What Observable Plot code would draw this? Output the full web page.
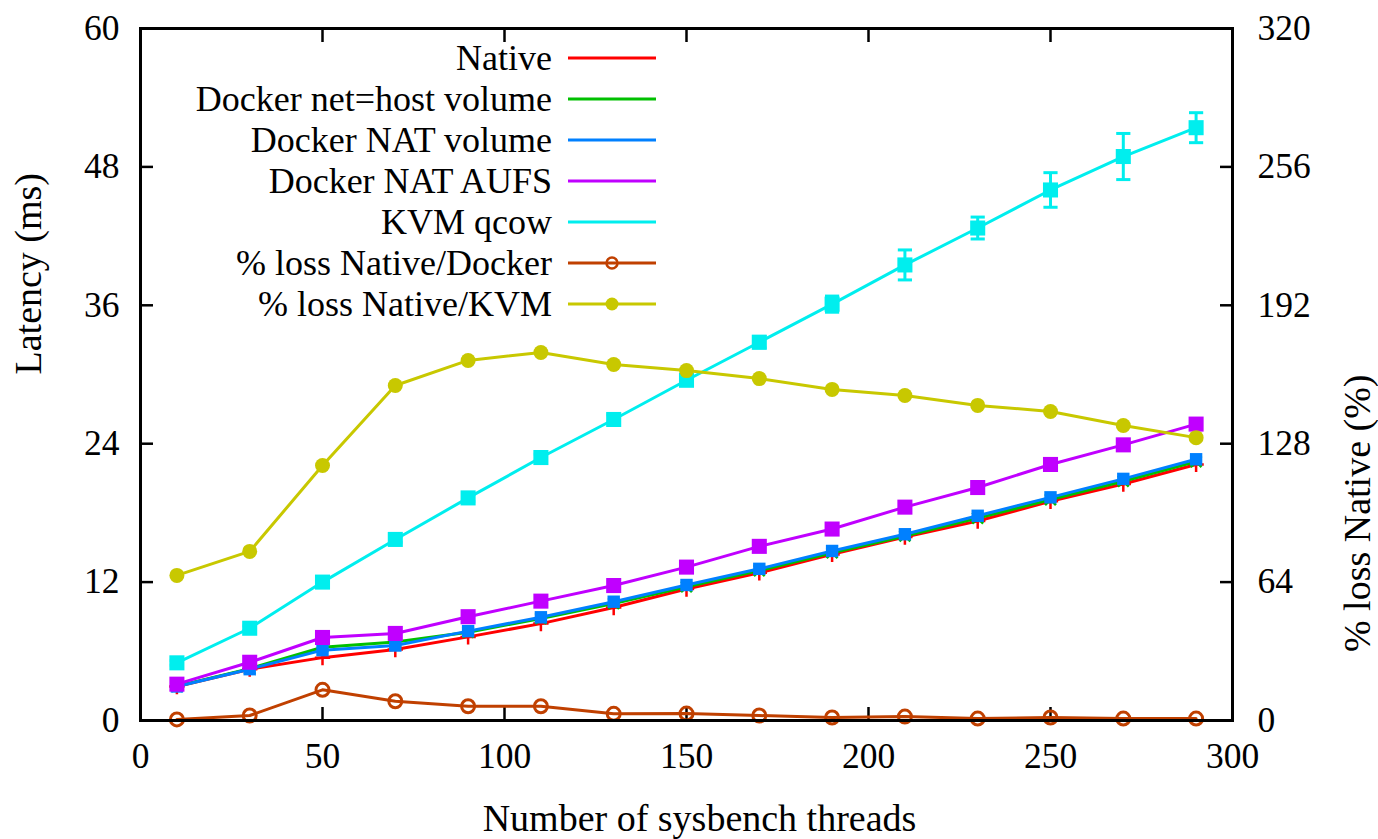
<!DOCTYPE html>
<html><head><meta charset="utf-8">
<script src="https://cdn.jsdelivr.net/npm/d3@7"></script>
<script src="https://cdn.jsdelivr.net/npm/@observablehq/plot@0.6"></script>
<style>
html,body{margin:0;padding:0;background:#fff;overflow:hidden}
#wrap{position:relative;width:1378px;height:839px}
#chart svg, #chart svg text{font-family:"Liberation Serif","Times New Roman",serif !important}
#legend{position:absolute;left:0;top:0;font-family:"Liberation Serif","Times New Roman",serif;font-size:36px;color:#000}
.row{position:absolute;left:0;height:40px;display:flex;align-items:center;white-space:nowrap}
.row span{display:inline-block;width:552px;text-align:right}
.row svg{margin-left:16px}
</style></head>
<body><div id="wrap"><div id="chart"></div><div id="legend"></div></div>
<script>
// ---- data ----
const threads = [10, 30, 50, 70, 90, 110, 130, 150, 170, 190, 210, 230, 250, 270, 290];
const native     = [2.95, 4.45, 5.45, 6.15, 7.25, 8.4, 9.8, 11.4, 12.8, 14.4, 15.9, 17.3, 19.0, 20.5, 22.2];
const dockerHost = [2.97, 4.5, 6.35, 6.8, 7.65, 8.85, 10.15, 11.6, 13.0, 14.55, 16.0, 17.55, 19.15, 20.75, 22.45];
const dockerNat  = [2.95, 4.45, 6.1, 6.5, 7.75, 8.95, 10.3, 11.75, 13.15, 14.7, 16.15, 17.75, 19.35, 20.95, 22.65];
const dockerAufs = [3.15, 5.05, 7.2, 7.55, 9.0, 10.35, 11.7, 13.3, 15.1, 16.6, 18.5, 20.2, 22.2, 23.9, 25.7];
const kvmQcow    = [5.0, 8.0, 12.0, 15.7, 19.3, 22.8, 26.1, 29.5, 32.8, 36.1, 39.5, 42.7, 46.0, 48.9, 51.4];
const kvmErr     = [0.2, 0.2, 0.25, 0.25, 0.3, 0.3, 0.4, 0.4, 0.5, 0.7, 1.3, 0.95, 1.5, 2.0, 1.3];
const lossDocker = [0.5, 2.3, 14.2, 8.9, 6.6, 6.6, 3.1, 3.2, 2.3, 1.4, 1.8, 0.9, 1.4, 0.9, 0.9];
const lossKvm    = [67.1, 78.2, 117.9, 154.9, 166.5, 170.2, 164.6, 161.8, 158.1, 153.1, 150.3, 145.7, 142.9, 136.4, 130.8];
const xTicks = [0, 50, 100, 150, 200, 250, 300];
const yTicks = [0, 12, 24, 36, 48, 60];
const y2Ticks = [0, 64, 128, 192, 256, 320];
const seriesNames = ["Native", "Docker net=host volume", "Docker NAT volume", "Docker NAT AUFS", "KVM qcow", "% loss Native/Docker", "% loss Native/KVM"];
const seriesColors = ["#ff0000", "#00c000", "#0080ff", "#c000ff", "#00eeee", "#c04000", "#c8c800"];
const xLabel = "Number of sysbench threads";
const yLabel = "Latency (ms)";
const y2Label = "% loss Native (%)";

// right axis (0..320) mapped onto left scale (0..60)
const y2ToY = v => v * yTicks[yTicks.length - 1] / y2Ticks[y2Ticks.length - 1];

const idx = threads.map((_, i) => i);
const capSymbol = {draw(ctx, size) { const w = Math.sqrt(size) / 2; ctx.moveTo(-w, 0); ctx.lineTo(w, 0); }};

const font = '"Liberation Serif","Times New Roman",serif';
const fs = 35.5;      // tick labels
const fsTitle = 38;   // axis titles
const lw = 3;

function lineAndDots(arr, color, dotOpts, transform = v => v) {
  return [
    Plot.line(idx, {x: i => threads[i], y: i => transform(arr[i]), stroke: color, strokeWidth: lw}),
    Plot.dot(idx, {x: i => threads[i], y: i => transform(arr[i]), ...dotOpts})
  ];
}

const chart = Plot.plot({
  width: 1378, height: 839,
  marginLeft: 140, marginRight: 146, marginTop: 28, marginBottom: 119,
  style: {fontFamily: font, fontSize: fs + "px", color: "#000", background: "#fff"},
  x: {domain: [0, 300]},
  y: {domain: [0, 60]},
  marks: [
    // tick labels
    Plot.axisX(xTicks, {anchor: "bottom", tickSize: 0, tickPadding: 22, label: null, fontSize: fs, fontFamily: font}),
    Plot.axisY(yTicks, {anchor: "left", tickSize: 0, tickPadding: 21, label: null, fontSize: fs, fontFamily: font}),
    Plot.axisY(yTicks, {anchor: "right", tickSize: 0, tickPadding: 25, label: null, fontSize: fs, fontFamily: font,
      tickFormat: d => String(y2Ticks[yTicks.indexOf(d)])}),
    // inward ticks
    Plot.axisX(xTicks.slice(1, -1), {anchor: "bottom", tickSize: -13, tickFormat: () => "", label: null, strokeWidth: 2.5}),
    Plot.axisX(xTicks.slice(1, -1), {anchor: "top", tickSize: -13, tickFormat: () => "", label: null, strokeWidth: 2.5}),
    Plot.axisY(yTicks.slice(1, -1), {anchor: "left", tickSize: -13, tickFormat: () => "", label: null, strokeWidth: 2.5}),
    Plot.axisY(yTicks.slice(1, -1), {anchor: "right", tickSize: -13, tickFormat: () => "", label: null, strokeWidth: 2.5}),
    // axis titles
    Plot.text([xLabel], {frameAnchor: "bottom", dy: 110, dx: 13, fontSize: fsTitle, fontFamily: font, fill: "#000"}),
    Plot.text([yLabel], {frameAnchor: "left", dx: -112, rotate: -90, fontSize: fsTitle, fontFamily: font, fill: "#000"}),
    Plot.text([y2Label], {frameAnchor: "right", dx: 125, rotate: -90, fontSize: fsTitle, fontFamily: font, fill: "#000"}),
    // series
    ...lineAndDots(native, seriesColors[0], {symbol: "plus", r: 5, stroke: seriesColors[0], strokeWidth: 2.5}),
    ...lineAndDots(dockerHost, seriesColors[1], {symbol: "times", r: 5, stroke: seriesColors[1], strokeWidth: 2.5}),
    ...lineAndDots(dockerNat, seriesColors[2], {symbol: "square", r: 7, fill: seriesColors[2]}),
    ...lineAndDots(dockerAufs, seriesColors[3], {symbol: "square", r: 8.5, fill: seriesColors[3]}),
    Plot.ruleX(idx, {x: i => threads[i], y1: i => kvmQcow[i] - kvmErr[i], y2: i => kvmQcow[i] + kvmErr[i], stroke: seriesColors[4], strokeWidth: 3}),
    Plot.dot(idx, {x: i => threads[i], y: i => kvmQcow[i] - kvmErr[i], symbol: capSymbol, r: 8, stroke: seriesColors[4], strokeWidth: 3}),
    Plot.dot(idx, {x: i => threads[i], y: i => kvmQcow[i] + kvmErr[i], symbol: capSymbol, r: 8, stroke: seriesColors[4], strokeWidth: 3}),
    ...lineAndDots(kvmQcow, seriesColors[4], {symbol: "square", r: 8.5, fill: seriesColors[4]}),
    ...lineAndDots(lossDocker, seriesColors[5], {symbol: "circle", r: 6.5, fill: "none", stroke: seriesColors[5], strokeWidth: 3}, y2ToY),
    ...lineAndDots(lossKvm, seriesColors[6], {symbol: "circle", r: 7.5, fill: seriesColors[6]}, y2ToY),
    Plot.frame({stroke: "#000", strokeWidth: 3})
  ]
});
document.getElementById("chart").appendChild(chart);

// legend (top-left inside the frame, like the reference)
const legend = document.getElementById("legend");
const rowTop0 = 38, rowStep = 41;
seriesNames.forEach((name, i) => {
  const row = document.createElement("div");
  row.className = "row";
  row.style.top = (rowTop0 + i * rowStep) + "px";
  const span = document.createElement("span");
  span.textContent = name;
  row.appendChild(span);
  const c = seriesColors[i];
  let marker = "";
  if (i === 5) marker = `<circle cx="44" cy="10" r="5.5" fill="none" stroke="${c}" stroke-width="2.5"/>`;
  if (i === 6) marker = `<circle cx="44" cy="10" r="6.5" fill="${c}"/>`;
  row.insertAdjacentHTML("beforeend",
    `<svg width="88" height="20"><line x1="0" y1="10" x2="88" y2="10" stroke="${c}" stroke-width="3"/>${marker}</svg>`);
  legend.appendChild(row);
});
</script>
</body></html>
